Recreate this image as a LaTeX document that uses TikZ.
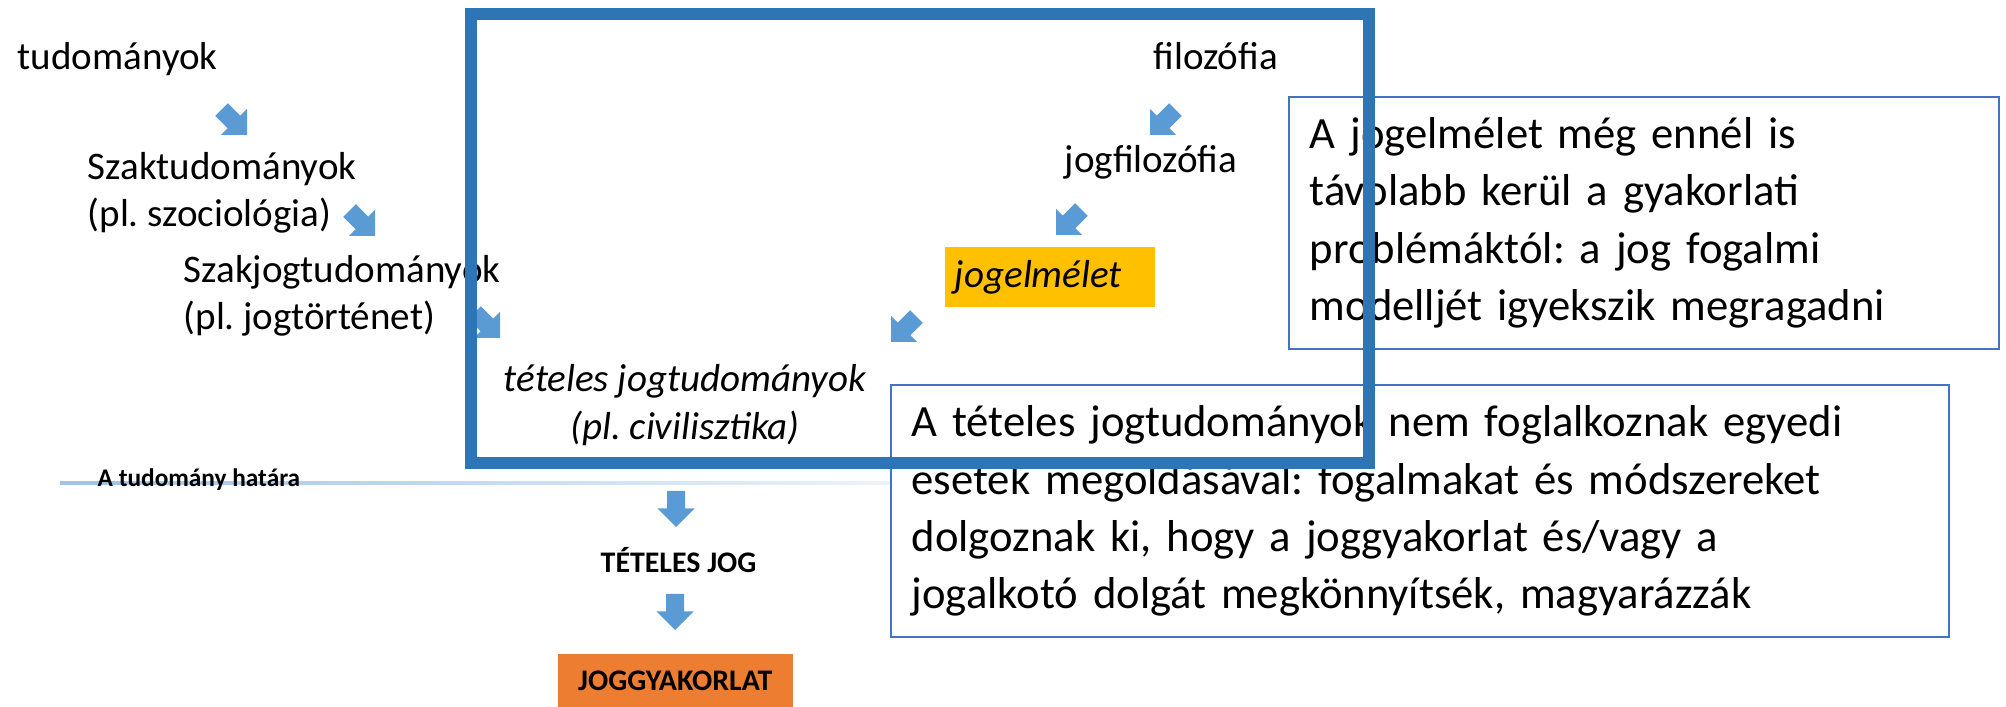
\documentclass[tikz,border=0pt]{standalone}
\usepackage{fontspec}
\setmainfont{Carlito}
\frenchspacing

\definecolor{framblue}{HTML}{2E75B6}
\definecolor{boxblue}{HTML}{4472C4}
\definecolor{arrblue}{HTML}{5B9BD5}
\definecolor{limitblue}{HTML}{9DC3E6}
\definecolor{jmyellow}{HTML}{FFC000}
\definecolor{jgyorange}{HTML}{ED7D31}

\tikzset{
  lbl/.style={inner sep=0pt, font=\fontsize{11.1}{13.5}\selectfont},
  note/.style={draw=boxblue, line width=0.5pt, fill=white, inner xsep=0.21cm, inner ysep=0pt,
               minimum height=2.52cm, align=left, font=\fontsize{12.7}{16.3}\selectfont},
  caps/.style={inner sep=0pt, font=\fontsize{8.5}{10}\selectfont\bfseries},
  blkarrow/.pic={\fill[arrblue] (0,0) -- (-18.5,-18.5) -- (-18.5,-9) -- (-36,-9)
                 -- (-36,9) -- (-18.5,9) -- (-18.5,18.5) -- cycle;},
}

\begin{document}
\begin{tikzpicture}[x=0.01cm, y=-0.01cm]
	\useasboundingbox (0,0) rectangle (2006,707);

	% a tudomany hatara
	\shade[left color=limitblue, right color=white] (60,482) rectangle (1100,485);
	\node[inner sep=0pt, anchor=base west, font=\fontsize{7.2}{8}\selectfont\bfseries]
		(hatar) at (97,487) {A tudomány határa};

	\node[lbl, anchor=base west] 				(tud) 		at (17,70) 		{tudományok};
	\node[lbl, anchor=base west, align=left] 	(szak) 		at (87,227) 	{Szaktudományok\\(pl. szociológia)};
	\node[lbl, anchor=base west, align=left] 	(szakjog) 	at (183,330) 	{Szakjogtudományok\\(pl. jogtörténet)};
	\node[lbl, anchor=base west] 				(fil) 		at (1153,70) 	{filozófia};
	\node[lbl, anchor=base west] 				(jogfil) 	at (1064,173) 	{jogfilozófia};
	\node[lbl, fill=jmyellow, inner xsep=0.1cm, text width=1.9cm, minimum height=0.59cm, align=left]
												(jogelm) 	at (1050,277) 	{\itshape jogelmélet};
	\node[lbl, anchor=base, align=center, font=\fontsize{11.1}{13.7}\selectfont\itshape]
												(tetjt) 	at (685,440) 	{tételes jogtudományok\\(pl. civilisztika)};
	\node[caps, anchor=base west] 				(tetjog) 	at (600,573) 	{TÉTELES JOG};
	\node[caps, fill=jgyorange, anchor=north west, minimum width=2.35cm, minimum height=0.54cm]
												(jgy) 		at (557,653) 	{JOGGYAKORLAT};

	% block arrows
	\pic[rotate=-45] 	(a1) at (247,135) {blkarrow};
	\pic[rotate=-45] 	(a2) at (375,236) {blkarrow};
	\pic[rotate=-45] 	(a3) at (500,338) {blkarrow};
	\pic[rotate=-135] 	(b1) at (1150,135) {blkarrow};
	\pic[rotate=-135] 	(b2) at (1056,235) {blkarrow};
	\pic[rotate=-135] 	(b3) at (891,342) {blkarrow};
	\pic[rotate=-90] 	(d1) at (676,527) {blkarrow};
	\pic[rotate=-90] 	(d2) at (675,630) {blkarrow};

	\node[note, text width=6.68cm] (elmnote) at (1644,223)
		{A jogelmélet még ennél is\\távolabb kerül a gyakorlati\\problémáktól: a jog fogalmi\\modelljét igyekszik megragadni};
	\node[note, text width=10.16cm] (tetnote) at (1420,511)
		{A tételes jogtudományok nem foglalkoznak egyedi\\esetek megoldásával: fogalmakat és módszereket\\dolgoznak ki, hogy a joggyakorlat és/vagy a\\jogalkotó dolgát megkönnyítsék, magyarázzák};

	\draw[framblue, line width=3.4pt] (471,14) rectangle (1369,463);
\end{tikzpicture}
\end{document}
